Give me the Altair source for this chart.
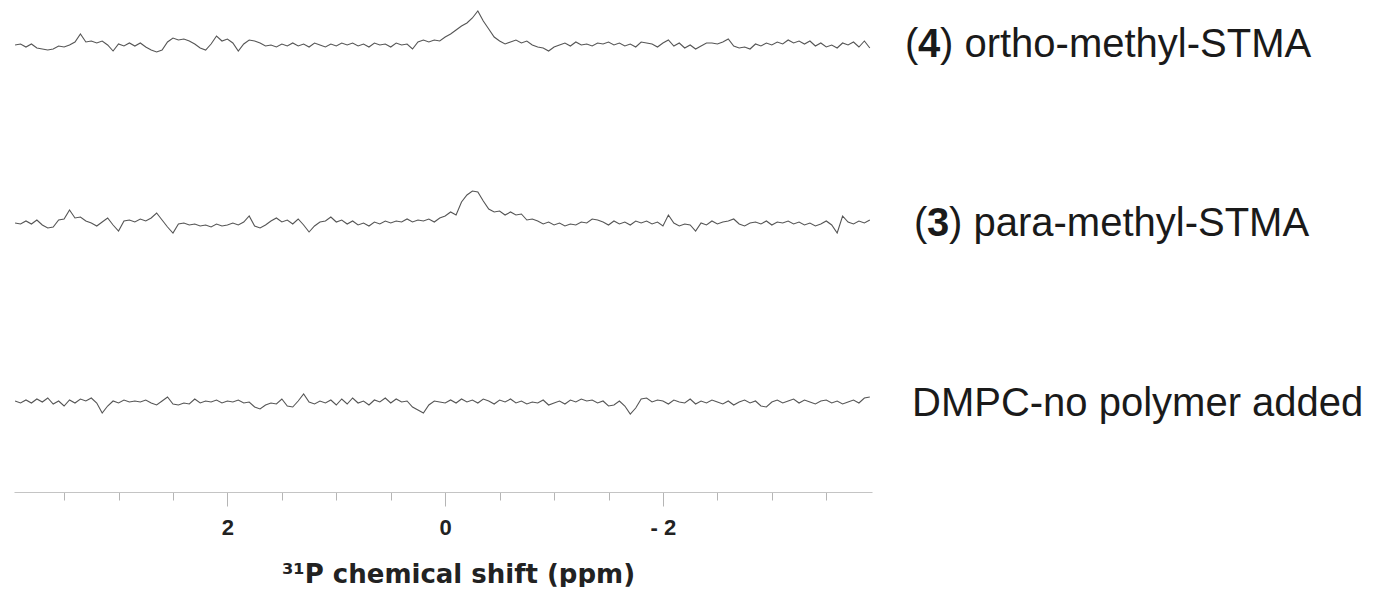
import altair as alt
import pandas as pd

# chemical shift grid (ppm)
ppm = [3.95, 3.90, 3.85, 3.80, 3.75, 3.70, 3.65, 3.60, 3.55, 3.50,
       3.45, 3.40, 3.35, 3.30, 3.25, 3.20, 3.15, 3.10, 3.05, 3.00,
       2.95, 2.90, 2.85, 2.80, 2.75, 2.70, 2.65, 2.60, 2.55, 2.50,
       2.45, 2.40, 2.35, 2.30, 2.25, 2.20, 2.15, 2.10, 2.05, 2.00,
       1.95, 1.90, 1.85, 1.80, 1.75, 1.70, 1.65, 1.60, 1.55, 1.50,
       1.45, 1.40, 1.35, 1.30, 1.25, 1.20, 1.15, 1.10, 1.05, 1.00,
       0.95, 0.90, 0.85, 0.80, 0.75, 0.70, 0.65, 0.60, 0.55, 0.50,
       0.45, 0.40, 0.35, 0.30, 0.25, 0.20, 0.15, 0.10, 0.05, 0.00,
       -0.05, -0.10, -0.15, -0.20, -0.25, -0.30, -0.35, -0.40, -0.45, -0.50,
       -0.55, -0.60, -0.65, -0.70, -0.75, -0.80, -0.85, -0.90, -0.95, -1.00,
       -1.05, -1.10, -1.15, -1.20, -1.25, -1.30, -1.35, -1.40, -1.45, -1.50,
       -1.55, -1.60, -1.65, -1.70, -1.75, -1.80, -1.85, -1.90, -1.95, -2.00,
       -2.05, -2.10, -2.15, -2.20, -2.25, -2.30, -2.35, -2.40, -2.45, -2.50,
       -2.55, -2.60, -2.65, -2.70, -2.75, -2.80, -2.85, -2.90, -2.95, -3.00,
       -3.05, -3.10, -3.15, -3.20, -3.25, -3.30, -3.35, -3.40, -3.45, -3.50,
       -3.55, -3.60, -3.65, -3.70, -3.75, -3.80, -3.85, -3.90]

# (4) ortho-methyl-STMA intensity (a.u.)
ortho = [0, 1, -2, 1, -3, -4, -5, -4, -1, -2,
         0, 3, 11, 3, 4, 2, 4, 0, -6, 1,
         -1, 2, -1, 2, -2, -5, -7, -5, 3, 7,
         5, 6, 4, 1, -3, -5, 1, 9, 4, 6,
         2, -6, 1, 5, 4, 2, -1, 0, -2, 1,
         -1, 2, -1, 1, -2, 2, 0, -2, 1, -1,
         2, 0, 2, -1, 1, -2, 2, 0, 1, -2,
         2, 0, 1, -4, 3, 5, 3, 5, 4, 8,
         11, 15, 19, 22, 27, 34, 24, 16, 8, 4,
         1, 3, 5, 2, 4, 0, -2, -3, -6, -2,
         0, 2, -1, 3, 0, 1, -1, 2, 1, 3,
         0, 2, -1, 1, -2, 3, 2, 1, -2, 2,
         5, -1, 2, -3, 0, -4, -1, 2, 2, 1,
         3, 6, -1, -3, -2, -4, 1, -1, 2, 0,
         3, 1, 5, 2, 4, 1, 4, -1, 2, -2,
         0, -3, 2, 0, 3, -2, 4, -3]

# (3) para-methyl-STMA intensity (a.u.)
para = [0, -1, 2, -1, 3, -2, -5, -4, 3, 4,
        13, 5, 6, 2, 0, -3, 1, 5, -2, -8,
        2, 3, 1, 4, 2, 5, 10, 3, -4, -10,
        -1, 0, -2, -1, -3, -2, -4, -1, -3, -2,
        0, -2, 1, 7, -3, -5, -2, 2, 5, 1,
        3, -1, 4, -2, -9, -3, 1, 2, 6, 1,
        3, -1, 2, -2, 0, -3, 1, -1, 2, 0,
        2, 1, 4, 1, 3, 2, 4, 1, 5, 7,
        11, 8, 21, 28, 32, 31, 22, 14, 11, 12,
        8, 11, 8, 9, 3, 4, 2, -1, 1, -2,
        0, -3, -1, -2, 1, 0, 4, 3, 1, -2,
        2, -1, 1, -2, 2, 0, 2, -1, 1, -3,
        8, 0, -3, -1, -2, -8, 0, -2, 2, -1,
        1, 2, 4, -1, -3, 0, 1, -1, 2, -2,
        1, 0, 2, -1, 1, -2, 0, -3, -1, 2,
        -2, -10, 7, 1, -1, 2, 0, 3]

# DMPC, no polymer added, intensity (a.u.)
dmpc = [1, -1, 2, -1, 3, 0, 4, -2, 1, -4,
        2, -1, 3, 1, 4, -1, -11, -4, 1, -1,
        2, 0, 1, 0, 2, -1, -3, 1, 5, -2,
        -3, -1, -2, 3, -1, 1, 0, 2, -1, 1,
        0, 2, -1, 0, -5, -7, -3, -1, -2, 3,
        -4, -5, 1, 8, 0, -2, 1, -1, 2, -3,
        3, -2, 4, -1, 1, -3, 2, 0, 4, -1,
        3, 0, 1, -5, -8, -11, -3, 1, 0, -1,
        2, -1, 3, 0, 2, -1, 3, 1, -2, 2,
        0, 3, -1, 1, -2, 0, -1, 2, -3, -1,
        1, -2, 2, 0, 3, 1, 2, -1, 1, -4,
        -3, 1, -4, -12, -6, 3, 4, 0, 2, 1,
        -2, 2, 0, -1, 3, -2, 1, -1, 2, 0,
        -2, 1, -3, 0, 2, -1, 1, -4, -5, 0,
        2, -1, 1, 3, -1, 2, 0, -2, 1, 2,
        -1, 1, -2, 0, 2, -1, 4, 5]

label_num = ["4", "3", ""]
label_rest = [") ortho-methyl-STMA", ") para-methyl-STMA", "DMPC-no polymer added"]
tick_values = [3.5, 3.0, 2.5, 2.0, 1.5, 1.0, 0.5, 0.0, -0.5, -1.0, -1.5, -2.0, -2.5, -3.0, -3.5]
labeled_ticks = [2.0, 0.0, -2.0]
labeled_text = ["2", "0", "- 2"]
x_title = "\u00b3\u00b9P chemical shift (ppm)"

W = 858
FONT = "Liberation Sans"
TXT = "#1a1a1a"
xscale = alt.Scale(domain=[3.96, -3.92], nice=False)

label_expr = " : ".join(
    f"datum.value == {v} ? '{t}'" for v, t in zip(labeled_ticks, labeled_text)
) + " : ''"
tick_test = " || ".join(f"datum.value == {v}" for v in labeled_ticks)


def text_layer(s, x, y, bold=False):
    return alt.Chart(pd.DataFrame({"t": [s]})).mark_text(
        align="left", baseline="alphabetic", font=FONT, fontSize=40,
        fontWeight="bold" if bold else "normal", color=TXT
    ).encode(text="t:N", x=alt.value(x), y=alt.value(y))


def panel(values, h, top, k, xtext, ytext, show_axis):
    df = pd.DataFrame({"ppm": ppm, "v": values})
    if show_axis:
        xaxis = alt.Axis(
            values=tick_values, labelExpr=label_expr, title=x_title,
            domainColor="#c4c4c4", domainWidth=1.2,
            tickColor="#b5b5b5", tickWidth=1,
            tickSize={"condition": {"test": tick_test, "value": 14}, "value": 8},
            labelFont=FONT, labelFontWeight="bold", labelFontSize=22,
            labelColor="#222222", labelPadding=11, labelFlush=False,
            titleFont="DejaVu Sans", titleFontWeight="bold", titleFontSize=26,
            titleColor="#222222", titlePadding=23, titleX=444,
            grid=False,
        )
        x = alt.X("ppm:Q", scale=xscale, axis=xaxis)
    else:
        x = alt.X("ppm:Q", scale=xscale, axis=None)
    line = alt.Chart(df).mark_line(color="#555555", strokeWidth=1.1).encode(
        x=x,
        y=alt.Y("v:Q", scale=alt.Scale(domain=[top - h, top], nice=False, zero=False), axis=None),
    )
    layers = [line]
    if label_num[k]:
        layers.append(text_layer("(", xtext, ytext))
        layers.append(text_layer(label_num[k], xtext + 13, ytext, bold=True))
        layers.append(text_layer(label_rest[k], xtext + 35, ytext))
    else:
        layers.append(text_layer(label_rest[k], xtext, ytext))
    return alt.layer(*layers).properties(width=W, height=h)


p1 = panel(ortho, 178, 37, 0, 891, 49, False)
p2 = panel(para, 178, 37, 1, 900, 50, False)
p3 = panel(dmpc, 128, 38, 2, 898, 52, True)

chart = alt.vconcat(p1, p2, p3, spacing=0).properties(
    padding={"left": 4, "top": 0, "right": 4, "bottom": 0}
).configure(background="white").configure_view(stroke=None)

chart.save("out.html", embed_options={"renderer": "svg", "actions": False})
